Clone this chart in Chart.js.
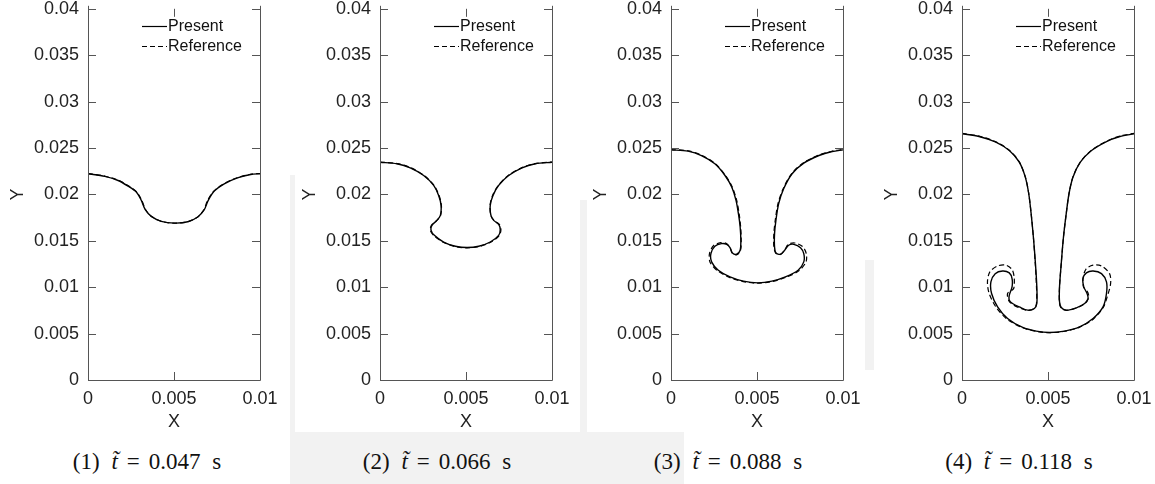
<!DOCTYPE html>
<html lang="en">
<head>
  <meta charset="UTF-8" />
  <title>Interface evolution</title>
  <style>
    html, body { margin: 0; padding: 0; background: #fff; overflow: hidden; }
    body { width: 1155px; height: 484px; position: relative; }
    .panel { position: absolute; top: -11px; }
    .caption {
      position: absolute; top: 449px; width: 240px; text-align: center; white-space: nowrap;
      font-family: "Liberation Serif", "Times New Roman", serif; font-size: 23px; color: #111;
      word-spacing: 6px;
    }
    .caption .eq { margin: 0 9px; }
    .wm { position: absolute; background: #f2f2f2; }
  </style>
  <script src="https://cdn.jsdelivr.net/npm/chart.js"></script>
</head>
<body>
  <div class="wm" style="left:290px; top:432px; width:290px; height:52px;"></div>
  <div class="wm" style="left:580px; top:432px; width:104px; height:52px;"></div>
  <div class="wm" style="left:580px; top:200px; width:7px; height:232px;"></div>
  <div class="wm" style="left:290px; top:175px; width:5px; height:257px;"></div>
  <div class="wm" style="left:865px; top:260px; width:9px; height:110px;"></div>

  <canvas class="panel" id="c0" width="288" height="451" style="left:0px"></canvas>
  <canvas class="panel" id="c1" width="288" height="451" style="left:292px"></canvas>
  <canvas class="panel" id="c2" width="288" height="451" style="left:583px"></canvas>
  <canvas class="panel" id="c3" width="288" height="451" style="left:874px"></canvas>

  <div id="captions"></div>

  <script>
    // axis ranges
    const xRange = [0, 0.01];
    const yRange = [0, 0.04];
    const xStep = 0.005;
    const yStep = 0.005;

    const panelLabels = ["(1)", "(2)", "(3)", "(4)"];
    const panelTimes = ["0.047", "0.066", "0.088", "0.118"];

    // interface positions [x, y]
    const present1 = [[0,0.02223],[0.00098,0.02194],[0.00175,0.0215],[0.00233,0.02089],[0.00281,0.02025],[0.0031,0.01935],[0.00333,0.01835],[0.00368,0.01763],[0.00426,0.0171],[0.00503,0.01691],[0.0058,0.01705],[0.00638,0.01756],[0.00676,0.01835],[0.00699,0.01935],[0.00734,0.02036],[0.00792,0.02114],[0.00869,0.02178],[0.00946,0.02215],[0.01,0.02223]];
    const reference1 = [[0,0.02225],[0.001,0.02196],[0.00177,0.02152],[0.00235,0.02092],[0.00283,0.02028],[0.00312,0.01938],[0.00336,0.01832],[0.0037,0.01761],[0.00428,0.01709],[0.005,0.0169],[0.00578,0.01704],[0.00636,0.01754],[0.00673,0.01832],[0.00696,0.01938],[0.00732,0.02036],[0.0079,0.02116],[0.00867,0.0218],[0.00945,0.02217],[0.01,0.02225]];

    const present2 = [[0,0.02347],[0.00099,0.0233],[0.00176,0.02287],[0.00254,0.02204],[0.00312,0.02097],[0.00341,0.01989],[0.00355,0.01882],[0.00351,0.01774],[0.00331,0.0172],[0.00302,0.01667],[0.00297,0.01613],[0.00316,0.01559],[0.0037,0.01487],[0.00438,0.01441],[0.00506,0.01427],[0.00574,0.01441],[0.00641,0.01487],[0.0069,0.01559],[0.00699,0.0162],[0.0069,0.01677],[0.00661,0.0172],[0.00645,0.01774],[0.00641,0.01882],[0.00657,0.01989],[0.0069,0.02097],[0.00748,0.02204],[0.00826,0.02287],[0.00903,0.0233],[0.01,0.02347]];
    const reference2 = [[0,0.02349],[0.001,0.02332],[0.00177,0.02289],[0.00255,0.02206],[0.00313,0.02099],[0.00343,0.0199],[0.00357,0.01882],[0.00352,0.01772],[0.00328,0.01716],[0.00298,0.01664],[0.00293,0.0161],[0.00313,0.01555],[0.00368,0.01484],[0.00437,0.01438],[0.00505,0.01424],[0.00575,0.01438],[0.00643,0.01484],[0.00693,0.01556],[0.00703,0.01618],[0.00694,0.01676],[0.00664,0.01718],[0.00645,0.01772],[0.0064,0.01882],[0.00655,0.0199],[0.00688,0.02099],[0.00747,0.02206],[0.00825,0.02289],[0.00902,0.02332],[0.01,0.02349]];

    const present3 = [[0,0.0248],[0.00099,0.02466],[0.00177,0.02419],[0.00255,0.0233],[0.00314,0.02204],[0.00353,0.02079],[0.00378,0.01935],[0.00392,0.01792],[0.00402,0.01649],[0.00406,0.01505],[0.00402,0.01398],[0.00382,0.01355],[0.00357,0.01369],[0.00343,0.01426],[0.00324,0.01462],[0.00294,0.0147],[0.00255,0.01441],[0.00232,0.01362],[0.00236,0.01273],[0.00275,0.01183],[0.00343,0.01111],[0.00421,0.01065],[0.00505,0.01047],[0.00587,0.01065],[0.00665,0.01111],[0.00739,0.01183],[0.00772,0.01273],[0.00772,0.01362],[0.00753,0.01426],[0.00714,0.01462],[0.00684,0.01452],[0.00661,0.01398],[0.00636,0.01355],[0.0061,0.01369],[0.00602,0.01433],[0.00602,0.01577],[0.0061,0.0172],[0.00626,0.019],[0.00655,0.02061],[0.00704,0.02223],[0.00772,0.02337],[0.0086,0.02419],[0.00937,0.02462],[0.01,0.0248]];
    const reference3 = [[0,0.02484],[0.001,0.0247],[0.00178,0.02422],[0.00256,0.02333],[0.00316,0.02206],[0.00356,0.0208],[0.00382,0.01935],[0.00396,0.01792],[0.00405,0.01649],[0.00408,0.01505],[0.00404,0.01396],[0.00383,0.0135],[0.00356,0.01366],[0.00342,0.01432],[0.0032,0.01472],[0.0029,0.0148],[0.00248,0.0145],[0.00224,0.01365],[0.00227,0.0127],[0.0027,0.01178],[0.0034,0.01106],[0.0042,0.01061],[0.00505,0.01043],[0.00588,0.01061],[0.00668,0.01106],[0.00745,0.0118],[0.00785,0.01273],[0.00786,0.01365],[0.00765,0.01438],[0.0072,0.01476],[0.00683,0.01463],[0.00662,0.01405],[0.00637,0.01352],[0.0061,0.01366],[0.00598,0.01433],[0.00598,0.01577],[0.00606,0.0172],[0.00622,0.019],[0.00652,0.02061],[0.00702,0.02225],[0.0077,0.0234],[0.00858,0.02422],[0.00936,0.02465],[0.01,0.02484]];

    const present4 = [[0,0.02653],[0.00099,0.02624],[0.00197,0.02563],[0.00275,0.02473],[0.00333,0.02347],[0.00368,0.02186],[0.00388,0.02007],[0.00402,0.01792],[0.00415,0.01541],[0.00427,0.01254],[0.00435,0.01004],[0.00435,0.00824],[0.00421,0.00771],[0.00382,0.00753],[0.00333,0.00788],[0.00294,0.00824],[0.00275,0.0086],[0.00275,0.00914],[0.00291,0.01004],[0.00291,0.01093],[0.00275,0.01154],[0.00236,0.01175],[0.00193,0.01146],[0.00168,0.01057],[0.00172,0.00932],[0.00207,0.00788],[0.00265,0.00663],[0.00353,0.00566],[0.00431,0.00527],[0.00509,0.00512],[0.00596,0.00527],[0.00684,0.00573],[0.00762,0.00663],[0.0082,0.00788],[0.0084,0.00932],[0.0084,0.01057],[0.00811,0.01146],[0.00762,0.01175],[0.00723,0.01154],[0.00703,0.01093],[0.00708,0.01004],[0.00727,0.00932],[0.00733,0.00878],[0.00713,0.00824],[0.00665,0.00778],[0.00606,0.00753],[0.00577,0.00781],[0.00567,0.00842],[0.00567,0.01004],[0.00577,0.01254],[0.0059,0.01541],[0.00606,0.01792],[0.00622,0.02007],[0.00645,0.02186],[0.00688,0.02347],[0.00753,0.02473],[0.0084,0.0257],[0.00918,0.02624],[0.01,0.02653]];
    const reference4 = [[0,0.02658],[0.00099,0.02628],[0.00197,0.02566],[0.00275,0.02476],[0.00333,0.0235],[0.00368,0.02189],[0.00388,0.0201],[0.00402,0.01795],[0.00415,0.01541],[0.00426,0.01254],[0.00433,0.01004],[0.00433,0.00824],[0.0042,0.00771],[0.00382,0.0075],[0.00333,0.00778],[0.00296,0.00812],[0.00272,0.00855],[0.00265,0.00932],[0.00296,0.00975],[0.00303,0.01004],[0.00303,0.01111],[0.00291,0.0119],[0.00256,0.01237],[0.00207,0.01229],[0.00162,0.01165],[0.00148,0.01057],[0.00158,0.00932],[0.00197,0.00788],[0.00262,0.00656],[0.00353,0.00563],[0.00431,0.00525],[0.00509,0.0051],[0.00596,0.00525],[0.00684,0.0057],[0.00764,0.00658],[0.00822,0.00785],[0.00844,0.00896],[0.00864,0.0104],[0.00858,0.01146],[0.00811,0.01229],[0.00762,0.01237],[0.00722,0.01198],[0.00705,0.01111],[0.00706,0.01004],[0.00728,0.00955],[0.00736,0.00914],[0.00735,0.00878],[0.00713,0.00822],[0.00665,0.00776],[0.00606,0.0075],[0.00575,0.0078],[0.00566,0.00842],[0.00567,0.01004],[0.00577,0.01254],[0.0059,0.01541],[0.00606,0.01792],[0.00622,0.02007],[0.00645,0.02189],[0.00688,0.0235],[0.00753,0.02476],[0.0084,0.02573],[0.00918,0.02628],[0.01,0.02658]];

    const presentCurves = [present1, present2, present3, present4];
    const referenceCurves = [reference1, reference2, reference3, reference4];

    const captionCenters = [147, 437, 728, 1019];
    const sans = '"Liberation Sans", Arial, Helvetica, sans-serif';
    const fmt = v => String(+Number(v).toFixed(3));

    // box with inward ticks on all sides (no top line, like the original)
    const framePlugin = {
      id: 'frame',
      afterDatasetsDraw(chart) {
        const { ctx, chartArea: a, scales: { x, y } } = chart;
        const tl = 8;
        ctx.save();
        ctx.strokeStyle = '#555';
        ctx.lineWidth = 1;
        ctx.beginPath();
        ctx.moveTo(a.left + 0.5, a.top - 3);
        ctx.lineTo(a.left + 0.5, a.bottom + 0.5);
        ctx.lineTo(a.right + 0.5, a.bottom + 0.5);
        ctx.lineTo(a.right + 0.5, a.top - 3);
        y.ticks.forEach(t => {
          const py = Math.round(y.getPixelForValue(t.value)) + 0.5;
          ctx.moveTo(a.left, py); ctx.lineTo(a.left + tl, py);
          ctx.moveTo(a.right, py); ctx.lineTo(a.right - tl, py);
        });
        x.ticks.forEach(t => {
          const px = Math.round(x.getPixelForValue(t.value)) + 0.5;
          ctx.moveTo(px, a.bottom); ctx.lineTo(px, a.bottom - tl);
          ctx.moveTo(px, a.top); ctx.lineTo(px, a.top + tl);
        });
        ctx.stroke();
        ctx.restore();
      }
    };

    // legend drawn inside the top right corner of the box
    const legendPlugin = {
      id: 'insideLegend',
      afterDraw(chart) {
        const { ctx, chartArea: a } = chart;
        ctx.save();
        ctx.font = '16px ' + sans;
        ctx.textBaseline = 'middle';
        chart.data.datasets.forEach((ds, k) => {
          const yy = Math.round(a.top + 17 + k * 20) + 0.5;
          ctx.strokeStyle = ds.borderColor;
          ctx.lineWidth = 1.2;
          ctx.setLineDash(ds.borderDash || []);
          ctx.beginPath();
          ctx.moveTo(a.right - 118, yy);
          ctx.lineTo(a.right - 93, yy);
          ctx.stroke();
          ctx.setLineDash([]);
          ctx.fillStyle = '#111';
          ctx.fillText(ds.label, a.right - 92, yy);
        });
        ctx.restore();
      }
    };

    function makePanel(i) {
      new Chart(document.getElementById('c' + i), {
        type: 'scatter',
        data: {
          datasets: [
            { label: 'Present', data: presentCurves[i], borderColor: '#000', borderWidth: 1.4,
              showLine: true, pointRadius: 0, tension: 0.3, fill: false },
            { label: 'Reference', data: referenceCurves[i], borderColor: '#000', borderWidth: 1.2,
              borderDash: [5, 3], showLine: true, pointRadius: 0, tension: 0.3, fill: false }
          ]
        },
        options: {
          responsive: false,
          animation: false,
          events: [],
          layout: { padding: { left: 0, top: 9, right: 28, bottom: 0 } },
          plugins: { legend: { display: false }, tooltip: { enabled: false } },
          scales: {
            x: {
              type: 'linear', min: xRange[0], max: xRange[1],
              afterFit: s => { s.height = 60; },
              grid: { display: false, drawTicks: false },
              border: { display: false },
              ticks: { stepSize: xStep, padding: 8, color: '#222', maxRotation: 0,
                       font: { size: 18, family: sans }, callback: fmt },
              title: { display: true, text: 'X', color: '#222', font: { size: 18, family: sans },
                       padding: { top: 0, bottom: 7 } }
            },
            y: {
              type: 'linear', min: yRange[0], max: yRange[1],
              afterFit: s => { s.width = 88; },
              grid: { display: false, drawTicks: false },
              border: { display: false },
              ticks: { stepSize: yStep, padding: 9, color: '#222',
                       font: { size: 18, family: sans }, callback: fmt },
              title: { display: true, text: 'Y', color: '#222', font: { size: 18, family: sans },
                       padding: { top: 7, bottom: 0 } }
            }
          }
        },
        plugins: [framePlugin, legendPlugin]
      });
    }

    for (let i = 0; i < 4; i++) makePanel(i);

    const capHtml = panelLabels.map((lab, i) =>
      `<div class="caption" style="left:${captionCenters[i] - 120}px">${lab} <i>t&#771;</i><span class="eq">=</span>${panelTimes[i]} s</div>`
    ).join('');
    document.getElementById('captions').innerHTML = capHtml;
  </script>
</body>
</html>
